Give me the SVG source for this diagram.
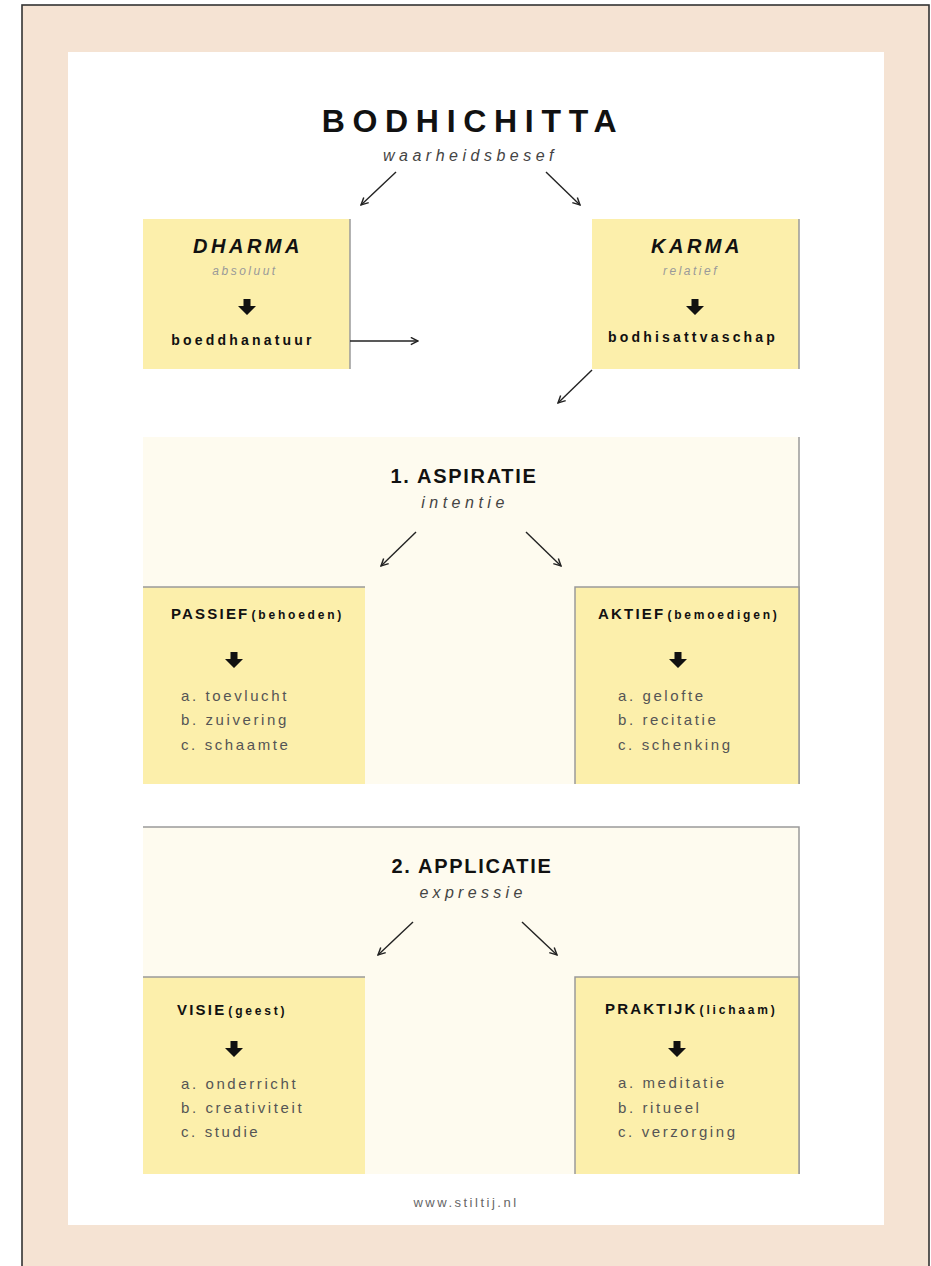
<svg xmlns="http://www.w3.org/2000/svg" width="931" height="1266" viewBox="0 0 931 1266">
<style>
.t{font-family:"Liberation Sans",Arial,sans-serif;fill:#111}
.title{font-size:32px;font-weight:bold;letter-spacing:7.7px}
.sub{font-size:16px;font-style:italic;fill:#444}
.kh{font-size:20px;font-weight:bold;font-style:italic;letter-spacing:3.5px}
.ks{font-size:12px;font-style:italic;fill:#999;letter-spacing:2.5px}
.kb{font-size:14px;font-weight:bold;letter-spacing:3.2px}
.sh{font-size:20px;font-weight:bold;letter-spacing:1.7px}
.bh{font-size:15px;font-weight:bold;letter-spacing:2.2px}
.bs{font-size:12px;font-weight:bold;letter-spacing:2.8px}
.li{font-size:15px;fill:#555;letter-spacing:2.6px}
.ybox{fill:#fcefab}
.cream{fill:#fefbef}
.edge{stroke:#9a9a9a;stroke-width:1.5;fill:none}
.con{stroke:#222;stroke-width:1.4;fill:none;marker-end:url(#ah)}
</style>
<defs>
<marker id="ah" viewBox="0 0 10 10" refX="9" refY="5" markerWidth="9" markerHeight="9" markerUnits="userSpaceOnUse" orient="auto">
<path d="M1,1 L9,5 L1,9" stroke="#222" stroke-width="1.6" fill="none"/>
</marker>
<path id="down" d="M-3.5,0 h7 v7 h5.5 l-9,9 l-9,-9 h5.5 z" fill="#111"/>
</defs>
<rect x="0" y="0" width="931" height="1266" fill="#ffffff"/>
<rect x="22" y="5" width="907" height="1280" fill="#f5e3d3" stroke="#333" stroke-width="1.6"/>
<rect x="68" y="52" width="816" height="1173" fill="#ffffff"/>

<g id="title">
<text class="t title" x="473" y="132" text-anchor="middle">BODHICHITTA</text>
<text class="t sub" x="470.5" y="161" text-anchor="middle" letter-spacing="4.5">waarheidsbesef</text>
</g>

<g id="dharma">
<rect class="ybox" x="143" y="219" width="207" height="150"/>
<line class="edge" x1="350" y1="219" x2="350" y2="369"/>
<text class="t kh" x="248" y="253" text-anchor="middle">DHARMA</text>
<text class="t ks" x="245" y="275" text-anchor="middle">absoluut</text>
<use href="#down" x="247" y="299"/>
<text class="t kb" x="243" y="345" text-anchor="middle">boeddhanatuur</text>
</g>

<g id="karma">
<rect class="ybox" x="592" y="219" width="207" height="150"/>
<line class="edge" x1="799" y1="219" x2="799" y2="369"/>
<text class="t kh" x="697" y="253" text-anchor="middle">KARMA</text>
<text class="t ks" x="691" y="275" text-anchor="middle">relatief</text>
<use href="#down" x="695" y="299"/>
<text class="t kb" x="693" y="342" text-anchor="middle">bodhisattvaschap</text>
</g>

<g id="aspiratie">
<rect class="cream" x="143" y="437" width="656" height="347"/>
<line class="edge" x1="799" y1="437" x2="799" y2="784"/>
<text class="t sh" x="464" y="483" text-anchor="middle">1. ASPIRATIE</text>
<text class="t sub" x="465" y="508" text-anchor="middle" letter-spacing="4.5">intentie</text>
</g>

<g id="passief">
<rect class="ybox" x="143" y="587" width="222" height="197"/>
<line class="edge" x1="143" y1="587" x2="365" y2="587"/>
<text class="t" x="171" y="619"><tspan class="bh">PASSIEF</tspan><tspan class="bs" dx="2">(behoeden)</tspan></text>
<use href="#down" x="234" y="652"/>
<text class="t li" x="181" y="701">a. toevlucht</text>
<text class="t li" x="181" y="725">b. zuivering</text>
<text class="t li" x="181" y="750">c. schaamte</text>
</g>

<g id="aktief">
<rect class="ybox" x="575" y="587" width="224" height="197"/>
<path class="edge" d="M575,784 V587 H799 V784"/>
<text class="t" x="598" y="619"><tspan class="bh">AKTIEF</tspan><tspan class="bs" dx="2">(bemoedigen)</tspan></text>
<use href="#down" x="678" y="652"/>
<text class="t li" x="618" y="701">a. gelofte</text>
<text class="t li" x="618" y="725">b. recitatie</text>
<text class="t li" x="618" y="750">c. schenking</text>
</g>

<g id="applicatie">
<rect class="cream" x="143" y="827" width="656" height="347"/>
<path class="edge" d="M143,827 H799 V1174"/>
<text class="t sh" x="472" y="873" text-anchor="middle">2. APPLICATIE</text>
<text class="t sub" x="473" y="898" text-anchor="middle" letter-spacing="4.3">expressie</text>
</g>

<g id="visie">
<rect class="ybox" x="143" y="977" width="222" height="197"/>
<line class="edge" x1="143" y1="977" x2="365" y2="977"/>
<text class="t" x="177" y="1015"><tspan class="bh">VISIE</tspan><tspan class="bs" dx="2">(geest)</tspan></text>
<use href="#down" x="234" y="1041"/>
<text class="t li" x="181" y="1089">a. onderricht</text>
<text class="t li" x="181" y="1113">b. creativiteit</text>
<text class="t li" x="181" y="1137">c. studie</text>
</g>

<g id="praktijk">
<rect class="ybox" x="575" y="977" width="224" height="197"/>
<path class="edge" d="M575,1174 V977 H799 V1174"/>
<text class="t" x="605" y="1014"><tspan class="bh">PRAKTIJK</tspan><tspan class="bs" dx="2">(lichaam)</tspan></text>
<use href="#down" x="677" y="1041"/>
<text class="t li" x="618" y="1088">a. meditatie</text>
<text class="t li" x="618" y="1113">b. ritueel</text>
<text class="t li" x="618" y="1137">c. verzorging</text>
</g>

<g id="footer">
<text class="t" x="466" y="1207" text-anchor="middle" font-size="13" letter-spacing="2.5" style="fill:#666">www.stiltij.nl</text>
</g>

<g id="connectors">
<line class="con" x1="396" y1="172" x2="361" y2="205"/>
<line class="con" x1="546" y1="172" x2="580" y2="205"/>
<line class="con" x1="350" y1="341" x2="418" y2="341"/>
<line class="con" x1="592" y1="370" x2="558" y2="403"/>
<line class="con" x1="416" y1="532" x2="381" y2="566"/>
<line class="con" x1="526" y1="532" x2="561" y2="566"/>
<line class="con" x1="413" y1="922" x2="378" y2="955"/>
<line class="con" x1="522" y1="922" x2="557" y2="955"/>
</g>
</svg>
